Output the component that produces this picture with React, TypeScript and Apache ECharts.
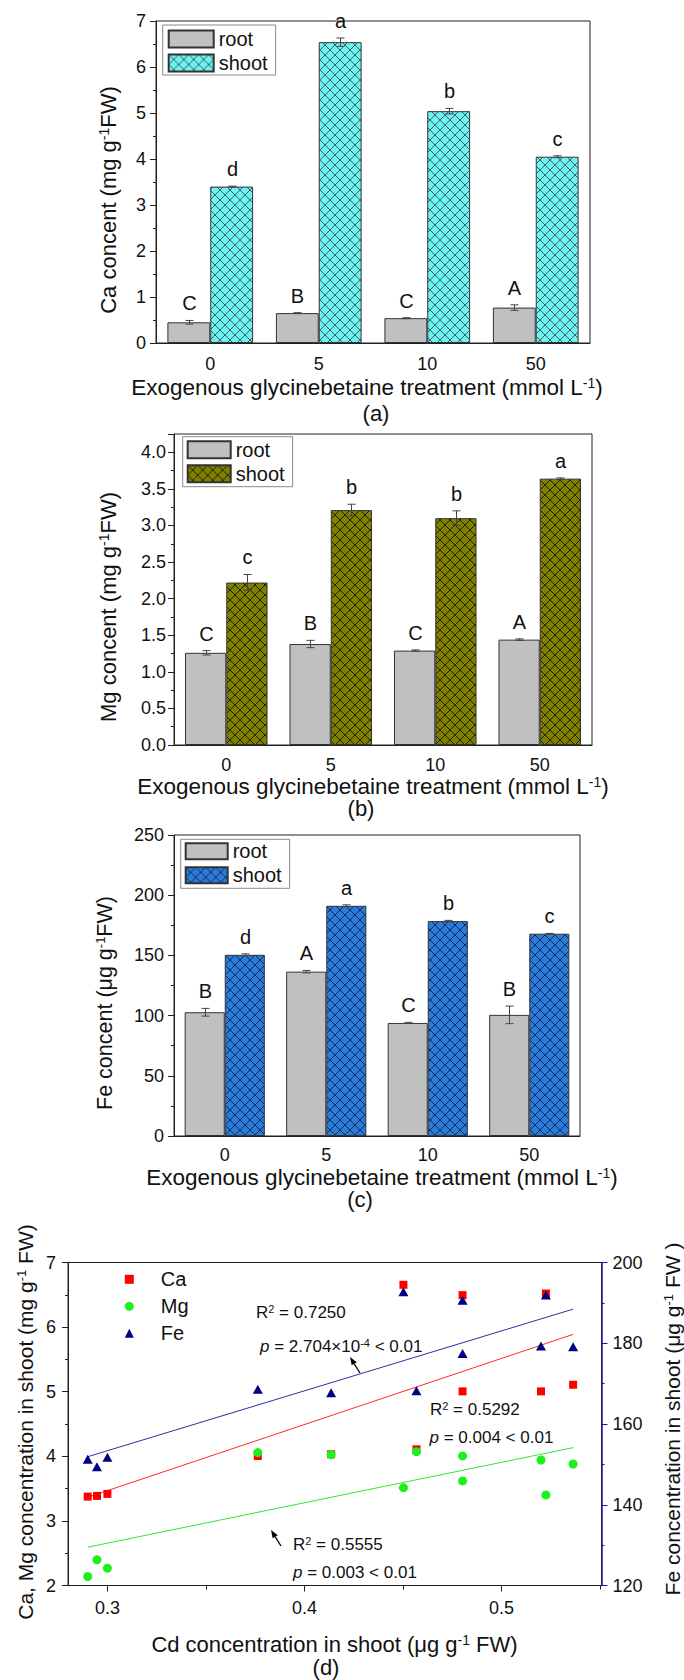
import React, { useEffect, useRef } from "react";
import * as echarts from "echarts";

// ---------- data ----------
const treatments = ["0", "5", "10", "50"];

const caRoot = [0.45, 0.65, 0.54, 0.77];
const caRootErr = [0.04, 0.01, 0.01, 0.06];
const caRootLetters = ["C", "B", "C", "A"];
const caShoot = [3.4, 6.54, 5.04, 4.05];
const caShootErr = [0.01, 0.09, 0.06, 0.02];
const caShootLetters = ["d", "a", "b", "c"];

const mgRoot = [1.26, 1.38, 1.29, 1.44];
const mgRootErr = [0.03, 0.05, 0.01, 0.01];
const mgRootLetters = ["C", "B", "C", "A"];
const mgShoot = [2.22, 3.21, 3.1, 3.64];
const mgShootErr = [0.11, 0.08, 0.1, 0.01];
const mgShootLetters = ["c", "b", "b", "a"];

const feRoot = [102.8, 136.5, 93.9, 100.6];
const feRootErr = [3.2, 1.0, 0.5, 7.3];
const feRootLetters = ["B", "A", "C", "B"];
const feShoot = [150.5, 191.2, 178.5, 168.0];
const feShootErr = [0.8, 0.8, 0.6, 0.3];
const feShootLetters = ["d", "a", "b", "c"];

// panel (d): Cd in shoot vs Ca, Mg (left axis) and Fe (right axis)
const cdShoot = [0.29, 0.2947, 0.3, 0.3763, 0.4135, 0.4502, 0.4568, 0.4802, 0.4802, 0.52, 0.5225, 0.5363];
const caPts = [3.376, 3.387, 3.418, 4.005, 4.031, 6.655, 4.108, 6.495, 5.005, 5.005, 6.52, 5.108];
const mgPts = [2.139, 2.397, 2.268, 4.057, 4.026, 3.515, 4.072, 4.005, 3.619, 3.943, 3.402, 3.881];
const fePts = [151.26, 149.44, 151.75, 168.58, 167.75, 192.74, 168.25, 190.68, 177.48, 179.3, 191.92, 179.13];

const fitX = [0.29, 0.5363];
const caFit = [3.366, 5.887];
const mgFit = [2.593, 4.134];
const feFit = [151.9, 188.45];

const dXLabels = [0.3, 0.4, 0.5];
const dXMinor = [0.35, 0.45, 0.55];

// ---------- style ----------
const FONT = "'Liberation Sans', Arial, Helvetica, sans-serif";
const AX = "#222";
const GAP = 0.21;
const NAVY = "#1a1a8a";

function hatch(fill: string, line: string) {
  const s = 10;
  const svg =
    `<svg xmlns='http://www.w3.org/2000/svg' width='${s}' height='${s}'>` +
    `<rect width='${s}' height='${s}' fill='${fill}'/>` +
    `<path d='M0,0L${s},${s}M${s},0L0,${s}' stroke='${line}' stroke-width='1' fill='none'/></svg>`;
  return {
    image: "data:image/svg+xml;charset=utf-8," + encodeURIComponent(svg),
    repeat: "repeat",
    imageWidth: s,
    imageHeight: s,
  };
}

function barPair(xi: number, yi: number, tag: string, root: number[], shoot: number[], shootColor: string, lineColor: string) {
  return [
    {
      type: "bar", name: "root_" + tag, xAxisIndex: xi, yAxisIndex: yi, data: root,
      barGap: "0%", barCategoryGap: Math.round(GAP * 100) + "%",
      itemStyle: { color: "#c0c0c0", borderColor: "#333", borderWidth: 1 },
    },
    {
      type: "bar", name: "shoot_" + tag, xAxisIndex: xi, yAxisIndex: yi, data: shoot,
      barGap: "0%", barCategoryGap: Math.round(GAP * 100) + "%",
      itemStyle: { color: hatch(shootColor, lineColor), borderColor: "#333", borderWidth: 1 },
    },
  ];
}

function errSeries(xi: number, yi: number, values: number[], errs: number[], letters: string[], side: number) {
  return {
    type: "custom", xAxisIndex: xi, yAxisIndex: yi, z: 5, silent: true,
    data: values.map((v, i) => [i, v, errs[i]]),
    renderItem: (params: any, api: any) => {
      const i = api.value(0), v = api.value(1), e = api.value(2);
      const band = api.coord([1, 0])[0] - api.coord([0, 0])[0];
      const bw = (band * (1 - GAP)) / 2;
      const base = api.coord([i, v]);
      const cx = Math.round(base[0] + (side * bw) / 2) + 0.5;
      const top = api.coord([i, v + e])[1];
      const bot = api.coord([i, v - e])[1];
      const st = { stroke: "#444", lineWidth: 1 };
      return {
        type: "group",
        children: [
          { type: "line", shape: { x1: cx, y1: top, x2: cx, y2: bot }, style: st },
          { type: "line", shape: { x1: cx - 4, y1: top, x2: cx + 4, y2: top }, style: st },
          { type: "line", shape: { x1: cx - 4, y1: bot, x2: cx + 4, y2: bot }, style: st },
          {
            type: "text", x: cx, y: top - 7,
            style: { text: letters[params.dataIndex], align: "center", verticalAlign: "bottom", fontSize: 20, fontFamily: FONT, fill: "#111" },
          },
        ],
      };
    },
  };
}

const catMain = (gi: number, margin: number) => ({
  type: "category", gridIndex: gi, data: treatments, position: "bottom", offset: 0,
  axisLine: { lineStyle: { color: AX, width: 1 } },
  axisTick: { alignWithLabel: true, length: 6, lineStyle: { color: AX } },
  axisLabel: { fontSize: 18, color: "#111", margin, fontFamily: FONT },
});
const catMinor = (gi: number) => ({
  type: "category", gridIndex: gi, data: treatments, position: "bottom", offset: 0,
  axisLine: { show: false },
  axisTick: { length: 4, lineStyle: { color: AX } },
  axisLabel: { show: false },
});

const valY = (gi: number, min: number, max: number, interval: number, fmt: (v: number) => string, margin: number) => ({
  type: "value", gridIndex: gi, min, max, interval, position: "left",
  axisLine: { show: true, lineStyle: { color: AX, width: 1 } },
  axisTick: { show: true, length: 6, lineStyle: { color: AX } },
  minorTick: { show: true, splitNumber: 2, length: 3, lineStyle: { color: AX } },
  splitLine: { show: false },
  axisLabel: { fontSize: 18, color: "#111", margin, fontFamily: FONT, formatter: fmt, showMaxLabel: max % interval === 0 },
});

function txt(x: number, y: number, text: string, size: number, opts: any = {}) {
  const ss = Math.round(size * 0.62);
  return {
    type: "text", x, y, rotation: opts.rot || 0, silent: true,
    style: {
      text, fontSize: size, fontFamily: FONT, fill: "#111",
      align: opts.align || "center", verticalAlign: "middle",
      rich: {
        sup: { fontSize: ss, fontFamily: FONT, verticalAlign: "top", lineHeight: ss, fill: "#111" },
        i: { fontStyle: "italic", fontSize: size, fontFamily: FONT, fill: "#111" },
      },
    },
  };
}

function arrow(hx: number, hy: number, tx: number, ty: number) {
  const dx = hx - tx, dy = hy - ty;
  const L = Math.hypot(dx, dy);
  const ux = dx / L, uy = dy / L;
  const bx = hx - ux * 8, by = hy - uy * 8;
  const px = -uy * 3, py = ux * 3;
  return [
    { type: "line", silent: true, shape: { x1: tx, y1: ty, x2: bx, y2: by }, style: { stroke: "#000", lineWidth: 1.3 } },
    { type: "polygon", silent: true, shape: { points: [[hx, hy], [bx + px, by + py], [bx - px, by - py]] }, style: { fill: "#000" } },
  ];
}

const barLegend = (tag: string, left: number, top: number, w: number, h: number, pad: number[]) => ({
  show: true, orient: "vertical", left, top, padding: pad, itemGap: 4, itemWidth: w, itemHeight: h,
  icon: "rect", data: ["root_" + tag, "shoot_" + tag], selectedMode: false,
  formatter: (n: string) => n.split("_")[0],
  borderColor: "#8a8a8a", borderWidth: 1, backgroundColor: "#fff",
  textStyle: { fontSize: 20, color: "#111", fontFamily: FONT },
});

function buildOption() {
  const grids = [
    { left: 156, top: 21, width: 434, height: 322 },
    { left: 174, top: 434, width: 418, height: 311 },
    { left: 174, top: 835, width: 406, height: 301 },
    { left: 68, top: 1262.5, width: 533.5, height: 323 },
  ].map((g) => ({ ...g, show: true, borderColor: AX, borderWidth: 1, backgroundColor: "transparent", containLabel: false }));

  const xAxis: any[] = [
    catMain(0, 12), catMinor(0), catMain(1, 11), catMinor(1), catMain(2, 10), catMinor(2),
    {
      type: "value", gridIndex: 3, min: 0.28, max: 0.5507, position: "bottom", offset: 0,
      axisLine: { lineStyle: { color: AX, width: 1 } },
      axisTick: { show: true, length: 6, customValues: dXLabels, lineStyle: { color: AX } },
      axisLabel: { fontSize: 18, color: "#111", margin: 13, fontFamily: FONT, customValues: dXLabels, formatter: (v: number) => v.toFixed(1) },
      splitLine: { show: false },
    },
    {
      type: "value", gridIndex: 3, min: 0.28, max: 0.5507, position: "bottom", offset: 0,
      axisLine: { show: false },
      axisTick: { show: true, length: 4, customValues: dXMinor, lineStyle: { color: AX } },
      axisLabel: { show: false },
      splitLine: { show: false },
    },
  ];

  const yAxis: any[] = [
    valY(0, 0, 7, 1, (v) => String(v), 10),
    valY(1, 0, 4.25, 0.5, (v) => v.toFixed(1), 8),
    valY(2, 0, 250, 50, (v) => String(v), 10),
    valY(3, 2, 7, 1, (v) => String(v), 12),
    {
      type: "value", gridIndex: 3, min: 120, max: 200, interval: 20, position: "right",
      axisLine: { show: true, lineStyle: { color: NAVY, width: 1.5 } },
      axisTick: { show: true, length: 6, lineStyle: { color: NAVY } },
      minorTick: { show: true, splitNumber: 2, length: 3, lineStyle: { color: NAVY } },
      splitLine: { show: false },
      axisLabel: { fontSize: 18, color: "#111", margin: 11, fontFamily: FONT },
    },
  ];

  const series: any[] = [
    ...barPair(0, 0, "a", caRoot, caShoot, "#6cf2f2", "#3a6363"),
    errSeries(0, 0, caRoot, caRootErr, caRootLetters, -1),
    errSeries(0, 0, caShoot, caShootErr, caShootLetters, 1),
    ...barPair(2, 1, "b", mgRoot, mgShoot, "#808000", "#222200"),
    errSeries(2, 1, mgRoot, mgRootErr, mgRootLetters, -1),
    errSeries(2, 1, mgShoot, mgShootErr, mgShootLetters, 1),
    ...barPair(4, 2, "c", feRoot, feShoot, "#2b7bd9", "#102a60"),
    errSeries(4, 2, feRoot, feRootErr, feRootLetters, -1),
    errSeries(4, 2, feShoot, feShootErr, feShootLetters, 1),
    {
      type: "line", name: "Ca fit", xAxisIndex: 6, yAxisIndex: 3, showSymbol: false, silent: true,
      data: fitX.map((x, i) => [x, caFit[i]]), lineStyle: { color: "#ff2a2a", width: 1 }, z: 2,
    },
    {
      type: "line", name: "Mg fit", xAxisIndex: 6, yAxisIndex: 3, showSymbol: false, silent: true,
      data: fitX.map((x, i) => [x, mgFit[i]]), lineStyle: { color: "#33e833", width: 1 }, z: 2,
    },
    {
      type: "line", name: "Fe fit", xAxisIndex: 6, yAxisIndex: 4, showSymbol: false, silent: true,
      data: fitX.map((x, i) => [x, feFit[i]]), lineStyle: { color: "#2a32a0", width: 1 }, z: 2,
    },
    {
      type: "scatter", name: "Ca", xAxisIndex: 6, yAxisIndex: 3, symbol: "rect", symbolSize: 8,
      data: cdShoot.map((x, i) => [x, caPts[i]]), itemStyle: { color: "#ff0000", opacity: 1 }, z: 4,
    },
    {
      type: "scatter", name: "Mg", xAxisIndex: 6, yAxisIndex: 3, symbol: "circle", symbolSize: 9,
      data: cdShoot.map((x, i) => [x, mgPts[i]]), itemStyle: { color: "#1fee1f", opacity: 1 }, z: 4,
    },
    {
      type: "scatter", name: "Fe", xAxisIndex: 6, yAxisIndex: 4, symbol: "triangle", symbolSize: [10, 9],
      data: cdShoot.map((x, i) => [x, fePts[i]]), itemStyle: { color: "#000080", opacity: 1 }, z: 4,
    },
  ];

  const legend: any[] = [
    barLegend("a", 162.7, 25, 45, 17, [4, 8, 2, 5]),
    barLegend("b", 182.7, 436.7, 43, 17, [3, 8, 3, 4]),
    barLegend("c", 180.7, 839.3, 42, 16, [2, 8, 3, 4]),
    {
      show: true, orient: "vertical", left: 124.8, top: 1269.3, padding: 0, itemGap: 7,
      itemWidth: 9, itemHeight: 9, selectedMode: false,
      data: [
        { name: "Ca", icon: "rect" },
        { name: "Mg", icon: "circle" },
        { name: "Fe", icon: "triangle" },
      ],
      textStyle: { fontSize: 20, color: "#111", fontFamily: FONT, padding: [0, 0, 0, 22] },
    },
  ];

  const R90 = Math.PI / 2;
  const graphic: any[] = [
    txt(108, 200, "Ca concent (mg g{sup|-1}FW)", 22, { rot: R90 }),
    txt(367, 387, "Exogenous glycinebetaine treatment (mmol L{sup|-1})", 22.5),
    txt(376, 413, "(a)", 22),
    txt(108, 607, "Mg concent (mg g{sup|-1}FW)", 22, { rot: R90 }),
    txt(373, 786, "Exogenous glycinebetaine treatment (mmol L{sup|-1})", 22.5),
    txt(361, 808, "(b)", 22),
    txt(105, 1003, "Fe concent (\u03bcg g{sup|-1}FW)", 21.5, { rot: R90 }),
    txt(382, 1177, "Exogenous glycinebetaine treatment (mmol L{sup|-1})", 22.5),
    txt(360, 1199, "(c)", 22),
    txt(25.5, 1422, "Ca, Mg concentration in shoot (mg g{sup|-1} FW)", 21, { rot: R90 }),
    txt(672, 1419, "Fe concentration in shoot (\u03bcg g{sup|-1} FW )", 21, { rot: R90 }),
    txt(334.5, 1644, "Cd concentration in shoot (\u03bcg g{sup|-1} FW)", 22),
    txt(326, 1667, "(d)", 22),
    txt(256, 1312, "R{sup|2} = 0.7250", 17, { align: "left" }),
    txt(260, 1346, "{i|p} = 2.704\u00d710{sup|-4} < 0.01", 17, { align: "left" }),
    txt(430, 1409, "R{sup|2} = 0.5292", 17, { align: "left" }),
    txt(429.5, 1437, "{i|p} = 0.004 < 0.01", 17, { align: "left" }),
    txt(293, 1544, "R{sup|2} = 0.5555", 17, { align: "left" }),
    txt(293, 1572.5, "{i|p} = 0.003 < 0.01", 17, { align: "left" }),
    ...arrow(350, 1357, 360, 1373),
    ...arrow(271, 1530, 281, 1546),
  ];

  return {
    animation: false,
    backgroundColor: "#fff",
    textStyle: { fontFamily: FONT },
    grid: grids,
    xAxis,
    yAxis,
    legend,
    series,
    graphic,
  };
}

export default function App() {
  const ref = useRef<HTMLDivElement>(null);
  useEffect(() => {
    if (!ref.current) return;
    const chart = echarts.init(ref.current, null, { renderer: "svg" });
    chart.setOption(buildOption() as any);
    return () => chart.dispose();
  }, []);
  return <div ref={ref} style={{ position: "absolute", left: 0, top: 0, width: 684, height: 1680 }} />;
}
